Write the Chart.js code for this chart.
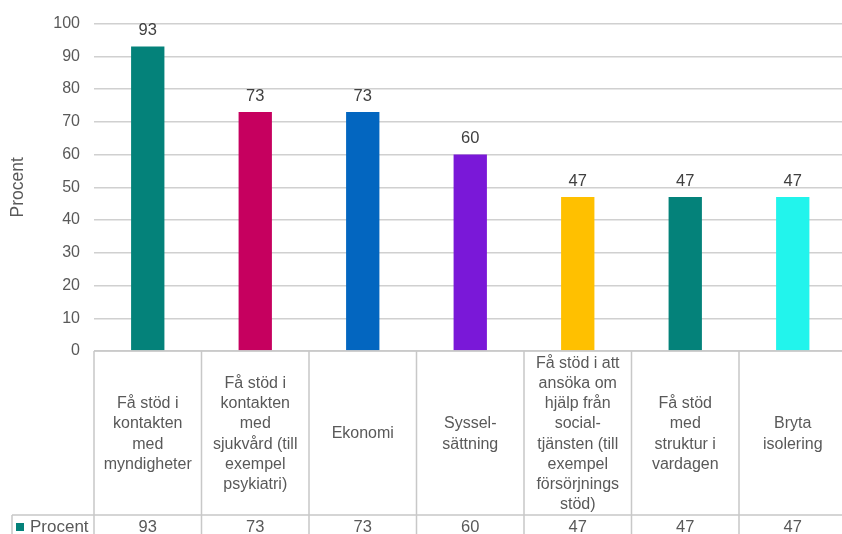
<!DOCTYPE html>
<html><head><meta charset="utf-8">
<script src="https://cdn.jsdelivr.net/npm/chart.js@4.4.1/dist/chart.umd.min.js"></script>
<style>html,body{margin:0;padding:0;overflow:hidden;background:#fff}#wrap{width:850px;height:534px}</style>
</head><body><div id="wrap"><canvas id="c" width="850" height="534"></canvas></div>
<script>
const categories = [
  ["Få stöd i","kontakten","med","myndigheter"],
  ["Få stöd i","kontakten","med","sjukvård (till","exempel","psykiatri)"],
  ["Ekonomi"],
  ["Syssel-","sättning"],
  ["Få stöd i att","ansöka om","hjälp från","social-","tjänsten (till","exempel","försörjnings","stöd)"],
  ["Få stöd","med","struktur i","vardagen"],
  ["Bryta","isolering"]
];
const seriesName = "Procent";
const values = [93, 73, 73, 60, 47, 47, 47];
const barColors = ["#04827a","#c6005f","#0366c0","#7a18d8","#ffc000","#04827a","#22f4ec"];
const yTicks = [0,10,20,30,40,50,60,70,80,90,100];

const TXT = "#595959";
const FONT = "'Liberation Sans', Arial, sans-serif";
const LINE = "#c8c8c8";

const valueLabels = {
  id: 'valueLabels',
  afterDatasetsDraw(chart) {
    const ctx = chart.ctx;
    const meta = chart.getDatasetMeta(0);
    ctx.save();
    ctx.fillStyle = "#404040";
    ctx.font = "16.5px " + FONT;
    ctx.textAlign = "center";
    ctx.textBaseline = "middle";
    meta.data.forEach((el, i) => {
      ctx.fillText(String(values[i]), el.x, el.y - 16);
    });
    ctx.restore();
  }
};

const dataTable = {
  id: 'dataTable',
  afterDraw(chart) {
    const ctx = chart.ctx;
    const a = chart.chartArea;
    const n = categories.length;
    const step = (a.right - a.left) / n;
    const top = a.bottom;
    const rowY = 515;
    const bottom = chart.height;
    ctx.save();
    ctx.strokeStyle = LINE;
    ctx.lineWidth = 1.5;
    ctx.beginPath();
    ctx.moveTo(a.left, top); ctx.lineTo(a.right, top);
    ctx.moveTo(12, rowY); ctx.lineTo(a.right, rowY);
    ctx.moveTo(12, rowY); ctx.lineTo(12, bottom);
    for (let i = 0; i <= n; i++) {
      const x = a.left + i * step;
      ctx.moveTo(x, top); ctx.lineTo(x, bottom);
    }
    ctx.stroke();
    ctx.fillStyle = TXT;
    ctx.textAlign = "center";
    ctx.textBaseline = "middle";
    const lh = 20.2;
    const cy = (top + rowY) / 2 + 1;
    categories.forEach((lines, i) => {
      const x = chart.scales.x.getPixelForValue(i);
      const y0 = cy - (lines.length - 1) * lh / 2;
      ctx.font = "16px " + FONT;
      lines.forEach((t, j) => ctx.fillText(t, x, y0 + j * lh));
      ctx.font = "16.5px " + FONT;
      ctx.fillText(String(values[i]), x, rowY + 12.5);
    });
    ctx.fillStyle = barColors[0];
    ctx.fillRect(16, rowY + 8, 8, 8);
    ctx.fillStyle = TXT;
    ctx.textAlign = "left";
    ctx.font = "17px " + FONT;
    ctx.fillText(seriesName, 30, rowY + 12.5);
    ctx.restore();
  }
};

new Chart(document.getElementById('c'), {
  type: 'bar',
  data: {
    labels: categories,
    datasets: [{
      label: seriesName,
      data: values,
      backgroundColor: barColors,
      barPercentage: 0.31,
      categoryPercentage: 1
    }]
  },
  options: {
    responsive: false,
    animation: false,
    layout: { padding: { top: 23, right: 3.5, bottom: 183, left: 0 } },
    plugins: { legend: { display: false }, tooltip: { enabled: false } },
    scales: {
      x: { display: false },
      y: {
        min: 0, max: 100,
        afterFit(s) { s.width = 94; },
        afterBuildTicks(s) { s.ticks = yTicks.map(v => ({ value: v })); },
        border: { display: false },
        grid: { color: "#d0d0d0", lineWidth: 1.5, drawTicks: false },
        ticks: { color: TXT, font: { family: FONT, size: 16 }, padding: 14 },
        title: { display: true, text: "Procent", color: TXT, font: { family: FONT, size: 17.5 }, padding: { top: 8, bottom: 0 } }
      }
    }
  },
  plugins: [valueLabels, dataTable]
});
</script></body></html>
